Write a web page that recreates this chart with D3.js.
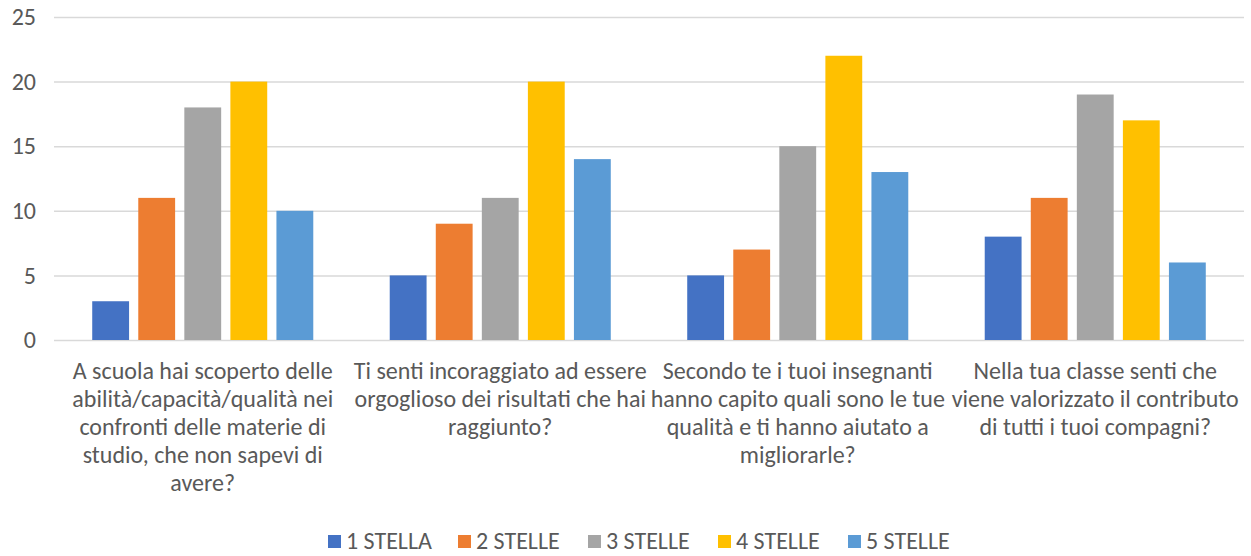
<!DOCTYPE html>
<html>
<head>
<meta charset="utf-8">
<script src="https://cdn.jsdelivr.net/npm/d3@7"></script>
<style>
  body { margin: 0; background: #fff; }
  text { font-family: Carlito, "Liberation Sans Narrow", "Noto Sans", sans-serif; fill: #595959; }
</style>
</head>
<body>
<div id="chart"></div>
<script>
// data
const categories = ["Q1", "Q2", "Q3", "Q4"];
const categoryLabels = [
    ["A scuola hai scoperto delle", "abilità/capacità/qualità nei", "confronti delle materie di", "studio, che non sapevi di", "avere?"],
    ["Ti senti incoraggiato ad essere", "orgoglioso dei risultati che hai", "raggiunto?"],
    ["Secondo te i tuoi insegnanti", "hanno capito quali sono le tue", "qualità e ti hanno aiutato a", "migliorarle?"],
    ["Nella tua classe senti che", "viene valorizzato il contributo", "di tutti i tuoi compagni?"]
];
const series = ["1 STELLA", "2 STELLE", "3 STELLE", "4 STELLE", "5 STELLE"];
const stella1 = [3, 5, 5, 8];
const stelle2 = [11, 9, 7, 11];
const stelle3 = [18, 11, 15, 19];
const stelle4 = [20, 20, 22, 17];
const stelle5 = [10, 14, 13, 6];
const yTicks = [0, 5, 10, 15, 20, 25];
const colors = ["#4472C4", "#ED7D31", "#A5A5A5", "#FFC000", "#5B9BD5"];

const values = [stella1, stelle2, stelle3, stelle4, stelle5];
const rows = categories.map((c, i) => ({
    cat: c,
    vals: series.map((s, j) => ({ key: s, value: values[j][i] }))
}));

const width = 1251;
const height = 556;
const margin = { top: 17, right: 7, bottom: 216, left: 54 };

const svg = d3
    .select("#chart")
    .append("svg")
    .attr("width", width)
    .attr("height", height);

const x0 = d3
    .scaleBand()
    .domain(categories)
    .range([margin.left, width - margin.right])
    .padding(0);

const x1 = d3
    .scaleBand()
    .domain(series)
    .range([0, x0.bandwidth()])
    .paddingInner(0.2)
    .paddingOuter(0.83);

const y = d3
    .scaleLinear()
    .domain([0, 25])
    .range([height - margin.bottom, margin.top]);

// gridlines + y labels
const yAxis = svg
    .append("g")
    .attr("transform", `translate(${margin.left},0)`)
    .call(d3.axisLeft(y)
        .tickValues(yTicks)
        .tickSize(-(width - margin.left - margin.right))
        .tickPadding(18));

yAxis.select(".domain").remove();
yAxis.selectAll(".tick line")
    .attr("stroke", "#D9D9D9")
    .attr("stroke-width", 1.5);
yAxis.selectAll(".tick text")
    .style("font-size", "24px")
    .attr("fill", "#595959");

// bars
svg
    .append("g")
    .selectAll("g")
    .data(rows)
    .join("g")
    .attr("transform", (d) => `translate(${x0(d.cat)},0)`)
    .selectAll("rect")
    .data((d) => d.vals)
    .join("rect")
    .attr("x", (d) => x1(d.key))
    .attr("y", (d) => y(d.value))
    .attr("width", x1.bandwidth())
    .attr("height", (d) => y(0) - y(d.value))
    .attr("fill", (d, i) => colors[i]);

// category labels
const labels = svg
    .append("g")
    .selectAll("text")
    .data(categories)
    .join("text")
    .attr("x", (d) => x0(d) + x0.bandwidth() / 2)
    .attr("y", y(0) + 39)
    .style("text-anchor", "middle")
    .style("font-size", "24px");

labels
    .selectAll("tspan")
    .data((d, i) => categoryLabels[i])
    .join("tspan")
    .attr("x", function() { return this.parentNode.getAttribute("x"); })
    .attr("dy", (d, i) => i === 0 ? 0 : 28)
    .text((d) => d);

// legend
const legend = svg
    .append("g")
    .selectAll("g")
    .data(series)
    .join("g")
    .attr("transform", (d, i) => `translate(${328 + i * 130},535)`);

legend
    .append("rect")
    .attr("width", 13)
    .attr("height", 13)
    .attr("fill", (d, i) => colors[i]);

legend
    .append("text")
    .attr("x", 18)
    .attr("y", 14)
    .style("font-size", "24px")
    .text((d) => d);
</script>
</body>
</html>
